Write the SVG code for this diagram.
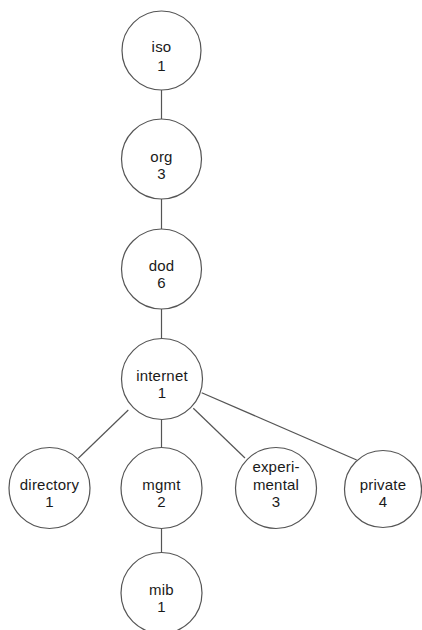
<svg xmlns="http://www.w3.org/2000/svg" width="422" height="630" viewBox="0 0 422 630">
<style>
.n{fill:#fff;stroke:#555;stroke-width:1.2}
.e{stroke:#555;stroke-width:1.2;fill:none}
text{font-family:"Liberation Sans",Arial,sans-serif;font-size:15px;letter-spacing:0.2px;fill:#1a1a1a;text-anchor:middle}
</style>
<rect width="422" height="630" fill="#fff"/>
<g id="connectors">
<line class="e" x1="161.5" y1="90" x2="161.5" y2="119"/>
<line class="e" x1="161.5" y1="199" x2="161.5" y2="229"/>
<line class="e" x1="161.5" y1="309" x2="161.5" y2="339"/>
<line class="e" x1="128.3" y1="410" x2="78.3" y2="458.3"/>
<line class="e" x1="161.5" y1="419" x2="161.5" y2="448"/>
<line class="e" x1="193.3" y1="408.3" x2="245" y2="458"/>
<line class="e" x1="201.7" y1="392.7" x2="356.7" y2="460"/>
<line class="e" x1="161.5" y1="528" x2="161.5" y2="553"/>
</g>
<g id="iso"><circle class="n" cx="161.5" cy="50.5" r="39.5"/><text x="161.5" y="52">iso</text><text x="161.5" y="70.5">1</text></g>
<g id="org"><circle class="n" cx="161.5" cy="159" r="40"/><text x="161.5" y="161.5">org</text><text x="161.5" y="178.5">3</text></g>
<g id="dod"><circle class="n" cx="161.5" cy="269" r="40"/><text x="161.5" y="270.5">dod</text><text x="161.5" y="288">6</text></g>
<g id="internet"><circle class="n" cx="162" cy="379" r="40.5"/><text x="162" y="380.5">internet</text><text x="162" y="398">1</text></g>
<g id="directory"><circle class="n" cx="49.5" cy="488" r="40.5"/><text x="49.5" y="489.5">directory</text><text x="49.5" y="507">1</text></g>
<g id="mgmt"><circle class="n" cx="161.5" cy="488" r="40.5"/><text x="161.5" y="489.5">mgmt</text><text x="161.5" y="507">2</text></g>
<g id="experimental"><circle class="n" cx="276" cy="488" r="40.5"/><text x="276" y="472">experi-</text><text x="276" y="489.5">mental</text><text x="276" y="507">3</text></g>
<g id="private"><circle class="n" cx="383" cy="489" r="38.5"/><text x="383" y="489.5">private</text><text x="383" y="507">4</text></g>
<g id="mib"><circle class="n" cx="161.5" cy="593" r="40.5"/><text x="161.5" y="595">mib</text><text x="161.5" y="612">1</text></g>
</svg>
